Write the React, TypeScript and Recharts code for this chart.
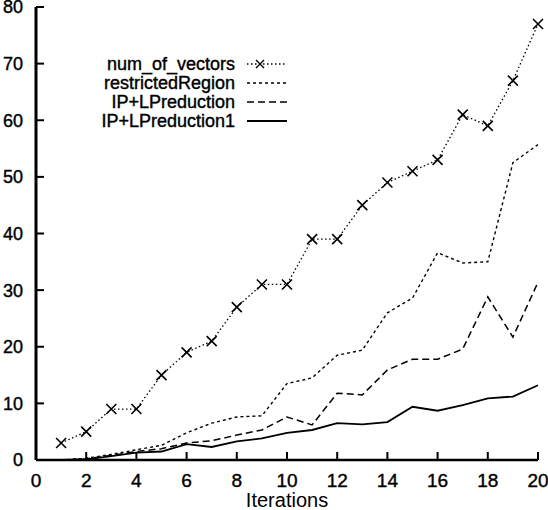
import React from "react";
import { LineChart, Line, XAxis, YAxis, Legend } from "recharts";

const iterations = [1, 2, 3, 4, 5, 6, 7, 8, 9, 10, 11, 12, 13, 14, 15, 16, 17, 18, 19, 20];
const numOfVectors = [3, 5, 9, 9, 15, 19, 21, 27, 31, 31, 39, 39, 45, 49, 51, 53, 61, 59, 67, 77];
const restrictedRegion = [0, 0.3, 1, 1.8, 2.6, 4.8, 6.5, 7.6, 7.8, 13.5, 14.5, 18.5, 19.4, 26, 28.6, 36.6, 34.8, 35, 52.5, 55.7];
const ipLpReduction = [0, 0.2, 0.8, 1.5, 2, 3, 3.4, 4.4, 5.3, 7.6, 6.2, 11.8, 11.5, 15.9, 17.8, 17.8, 19.6, 28.8, 21.7, 31.4];
const ipLpReduction1 = [0, 0.1, 0.7, 1.3, 1.5, 2.8, 2.3, 3.3, 3.8, 4.8, 5.3, 6.5, 6.3, 6.7, 9.4, 8.7, 9.7, 10.9, 11.2, 13.2];

const xTicks = [0, 2, 4, 6, 8, 10, 12, 14, 16, 18, 20];
const yTicks = [0, 10, 20, 30, 40, 50, 60, 70, 80];

const font = "'Liberation Sans', Arial, Helvetica, sans-serif";
const TICK_LEN = 8;
const LABEL_GAP = 13;

interface SeriesDef {
  key: string;
  name: string;
  values: number[];
  dash?: string;
  width: number;
  cross?: boolean;
}

const series: SeriesDef[] = [
  { key: "nv", name: "num_of_vectors", values: numOfVectors, dash: "1.5 2.5", width: 1.3, cross: true },
  { key: "rr", name: "restrictedRegion", values: restrictedRegion, dash: "3 3", width: 1.4 },
  { key: "ip", name: "IP+LPreduction", values: ipLpReduction, dash: "7 4", width: 1.5 },
  { key: "ip1", name: "IP+LPreduction1", values: ipLpReduction1, width: 1.8 },
];

const data = iterations.map((it, i) => {
  const row: Record<string, number> = { it };
  series.forEach((s) => {
    row[s.key] = s.values[i];
  });
  return row;
});

const crossPath = (cx: number, cy: number, r: number) =>
  `M${cx - r},${cy - r}L${cx + r},${cy + r}M${cx - r},${cy + r}L${cx + r},${cy - r}`;

const renderCross = (props: any) => {
  const { cx, cy, index } = props;
  if (cx == null || cy == null) return <g key={index} />;
  return <path key={index} d={crossPath(cx, cy, 5)} stroke="#000" strokeWidth={1.6} fill="none" />;
};

const textProps = { fill: "#000", stroke: "#000", strokeWidth: 0.4, fontFamily: font };

// with tickSize 0 the tick gets the axis position: draw the mark inward, the label outside
const BottomTick = (props: any) => {
  const { x, y, payload } = props;
  return (
    <g>
      <line x1={x} x2={x} y1={y} y2={y - TICK_LEN} stroke="#000" strokeWidth={2} />
      <text x={x} y={y + LABEL_GAP} dy="0.72em" textAnchor="middle" fontSize={19} {...textProps}>
        {payload.value}
      </text>
    </g>
  );
};

const LeftTick = (props: any) => {
  const { x, y, payload } = props;
  return (
    <g>
      <line x1={x} x2={x + TICK_LEN} y1={y} y2={y} stroke="#000" strokeWidth={2} />
      <text x={x - LABEL_GAP} y={y} dy="0.36em" textAnchor="end" fontSize={18} {...textProps}>
        {payload.value}
      </text>
    </g>
  );
};

const TopTick = (props: any) => {
  const { x, y } = props;
  return <line x1={x} x2={x} y1={y} y2={y + TICK_LEN} stroke="#000" strokeWidth={2} />;
};

const RightTick = (props: any) => {
  const { x, y } = props;
  return <line x1={x} x2={x - TICK_LEN} y1={y} y2={y} stroke="#000" strokeWidth={2} />;
};

const LegendBox = () => (
  <svg width={300} height={140} style={{ display: "block" }}>
    {series.map((s, i) => {
      const y = 64 + i * 19;
      return (
        <g key={s.key}>
          <text x={235} y={y + 6} textAnchor="end" fontSize={18} {...textProps}>
            {s.name}
          </text>
          <line x1={247} x2={287} y1={y} y2={y} stroke="#000" strokeWidth={s.width} strokeDasharray={s.dash} />
          {s.cross && <path d={crossPath(260, y, 4)} stroke="#000" strokeWidth={1.4} fill="none" />}
        </g>
      );
    })}
  </svg>
);

export default function App() {
  return (
    <div style={{ position: "absolute", left: 0, top: 0, background: "#fff" }}>
      <LineChart width={548} height={510} data={data} margin={{ top: 7, right: 10, left: 0, bottom: 0 }}>
        <XAxis
          dataKey="it"
          type="number"
          domain={[0, 20]}
          ticks={xTicks}
          interval={0}
          height={50}
          tickSize={0}
          tickMargin={0}
          tick={<BottomTick />}
          tickLine={false}
          axisLine={{ stroke: "#000", strokeWidth: 2.5 }}
          label={{ value: "Iterations", position: "insideBottom", offset: 3, fill: "#000", fontSize: 20, fontFamily: font }}
        />
        <XAxis
          xAxisId="top"
          orientation="top"
          type="number"
          domain={[0, 20]}
          allowDataOverflow
          ticks={xTicks}
          interval={0}
          height={0}
          tickSize={0}
          tickMargin={0}
          tick={<TopTick />}
          tickLine={false}
          axisLine={{ stroke: "#000", strokeWidth: 2 }}
        />
        <YAxis
          type="number"
          domain={[0, 80]}
          ticks={yTicks}
          interval={0}
          width={36}
          tickSize={0}
          tickMargin={0}
          tick={<LeftTick />}
          tickLine={false}
          axisLine={{ stroke: "#000", strokeWidth: 3 }}
        />
        <YAxis
          yAxisId="right"
          orientation="right"
          type="number"
          domain={[0, 80]}
          allowDataOverflow
          ticks={yTicks}
          interval={0}
          width={0}
          tickSize={0}
          tickMargin={0}
          tick={<RightTick />}
          tickLine={false}
          axisLine={{ stroke: "#000", strokeWidth: 2.5 }}
        />
        <Legend
          layout="vertical"
          align="center"
          verticalAlign="middle"
          wrapperStyle={{ left: 0, top: 0, width: 300, height: 140 }}
          content={() => <LegendBox />}
        />
        {series.map((s) => (
          <Line
            key={s.key}
            type="linear"
            dataKey={s.key}
            name={s.name}
            stroke="#000"
            strokeWidth={s.width}
            strokeDasharray={s.dash}
            dot={s.cross ? renderCross : false}
            activeDot={false}
            isAnimationActive={false}
          />
        ))}
      </LineChart>
    </div>
  );
}
